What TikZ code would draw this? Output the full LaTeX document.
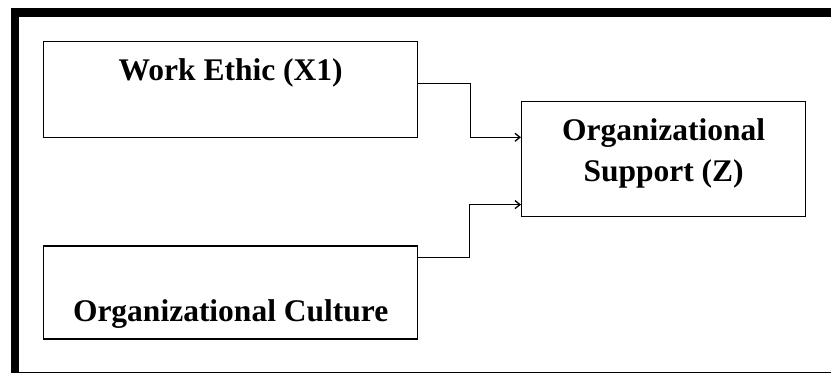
\documentclass[tikz,border=0pt]{standalone}
\usepackage{fontspec}
\setmainfont{Liberation Serif}
\usetikzlibrary{arrows.meta,positioning}

\begin{document}
\begin{tikzpicture}[% units of one pixel of the figure
		x=1pt,y=1pt,
		every node/.style={
			align=center,		% so that "\\" breaks the line
			font=\bfseries\fontsize{31.5pt}{41pt}\selectfont
		},
		box/.style={rectangle,draw=black,line width=1.3pt,inner sep=0pt,minimum width=374pt},
		link/.style={draw,line width=1.3pt,-{Straight Barb[length=5pt,width=8pt]}}
	]
	\useasboundingbox (0,0) rectangle (831,374);
	% frame, open on the right
	\draw[line width=9pt] (11,361.5) -- (831,361.5);
	\draw[line width=8pt] (15,1) -- (15,366);
	\draw[line width=1.3pt] (11,1.3) -- (831,1.3);

	\node[box,text height=39pt,text depth=57pt,anchor=north west](work) at (43,333){Work Ethic (X1)};
	\node[box,text height=76pt,text depth=17pt](culture)[below=107pt of work]{Organizational Culture};
	\node[box,minimum width=284pt,minimum height=114.7pt,anchor=north west](support) at (521,273){Organizational\\ Support (Z)\rule[-17pt]{0pt}{17pt}};

	\coordinate (work out) at ([yshift=6.3pt]work.east);
	\coordinate (culture out) at ([yshift=35pt]culture.east);
	\coordinate (support in1) at ([yshift=21.7pt]support.west);
	\coordinate (support in2) at ([yshift=-45.6pt]support.west);
	\path[link] (work out) -- ++(52,0) |- (support in1);
	\path[link] (culture out) -- ++(51,0) |- (support in2);
\end{tikzpicture}
\end{document}
